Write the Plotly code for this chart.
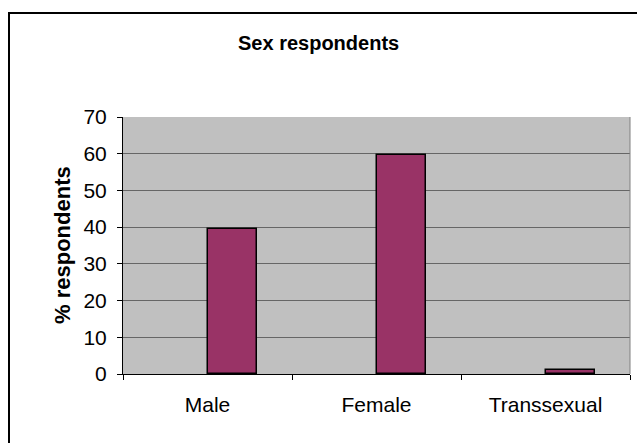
import plotly.graph_objects as go

# Survey data
categories = ["Male", "Female", "Transsexual"]
percent = [39.4, 59.6, 1.2]
y_ticks = [0, 10, 20, 30, 40, 50, 60, 70]

W, H = 637, 443
L, R, T, B = 123, 7, 117, 69
pw, ph = W - L - R, H - T - B


def px_x(x):
    return (x - L) / pw


def px_y(y):
    return (H - B - y) / ph


fig = go.Figure()
fig.add_trace(go.Bar(
    x=categories,
    y=percent,
    offset=0,
    width=0.29,
    marker=dict(color="#993366", line=dict(color="black", width=1.5)),
    hoverinfo="x+y",
))

font_family = "Liberation Sans, Arial, sans-serif"

fig.update_layout(
    width=W,
    height=H,
    margin=dict(l=L, r=R, t=T, b=B, pad=0),
    paper_bgcolor="white",
    plot_bgcolor="#C0C0C0",
    showlegend=False,
    bargap=0,
    font=dict(family=font_family, color="black", size=21),
    xaxis=dict(
        type="category",
        range=[-0.5, 2.5],
        tickson="boundaries",
        ticks="outside",
        ticklen=5,
        tickcolor="black",
        showline=True,
        linecolor="black",
        linewidth=1,
        showgrid=False,
        tickfont=dict(size=21),
        ticklabelstandoff=12,
    ),
    yaxis=dict(
        range=[0, 70],
        tickvals=y_ticks,
        ticks="outside",
        ticklen=5,
        tickcolor="black",
        showline=True,
        linecolor="black",
        linewidth=1,
        showgrid=True,
        gridcolor="#666666",
        gridwidth=1,
        zeroline=False,
        tickfont=dict(size=21),
        ticklabelstandoff=6,
    ),
    annotations=[
        dict(
            text="<b>Sex respondents</b>",
            x=px_x(318), y=px_y(43), xref="paper", yref="paper",
            showarrow=False, xanchor="center", yanchor="middle",
            font=dict(size=20, family=font_family),
        ),
        dict(
            text="<b>% respondents</b>",
            x=px_x(62), y=px_y(245), xref="paper", yref="paper",
            showarrow=False, xanchor="center", yanchor="middle",
            textangle=-90,
            font=dict(size=22, family=font_family),
        ),
    ],
    shapes=[
        # right border of the plot area
        dict(type="line", xref="paper", yref="paper", x0=1, x1=1, y0=0, y1=1,
             line=dict(color="#808080", width=1)),
        # chart frame
        dict(type="rect", xref="paper", yref="paper",
             x0=px_x(9), x1=px_x(700), y0=px_y(500), y1=px_y(13),
             line=dict(color="black", width=2), layer="above"),
    ],
)

fig.write_html("out.html")
